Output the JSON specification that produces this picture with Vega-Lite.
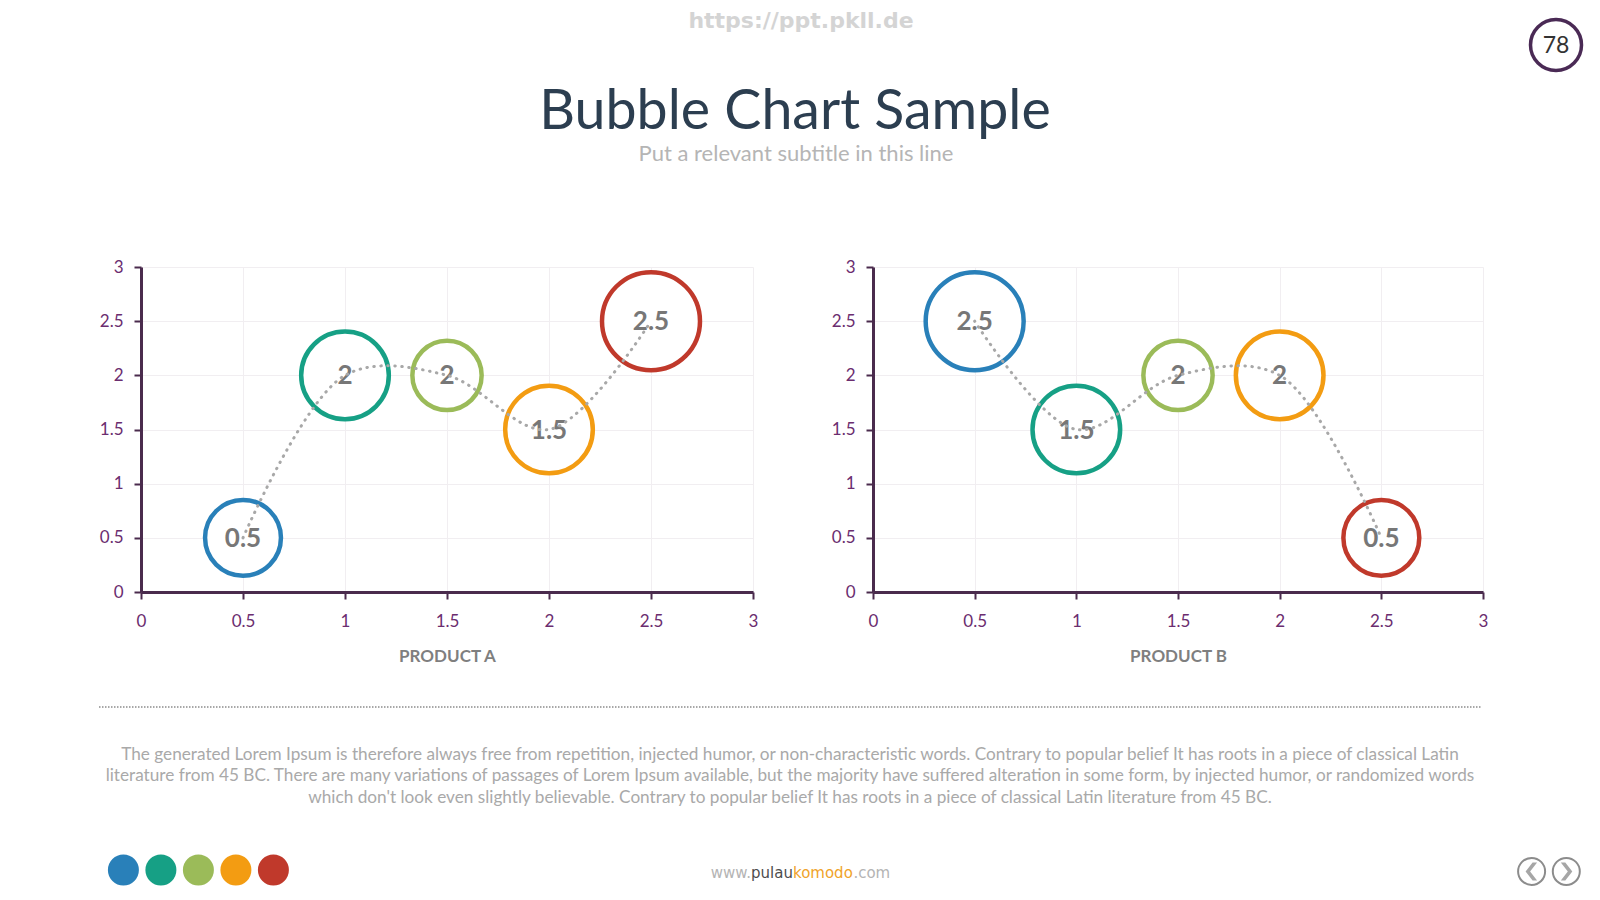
{
  "$schema": "https://vega.github.io/schema/vega-lite/v6.json",
  "background": "white",
  "padding": 0,
  "autosize": {"type": "pad"},
  "bounds": "flush",
  "spacing": 120,
  "datasets": {
    "productA": [
      {"k": "1", "x": 0.5, "y": 0.5, "w": 1.2},
      {"k": "2", "x": 1, "y": 2, "w": 1.6},
      {"k": "3", "x": 1.5, "y": 2, "w": 1},
      {"k": "4", "x": 2, "y": 1.5, "w": 1.6},
      {"k": "5", "x": 2.5, "y": 2.5, "w": 2}
    ],
    "productB": [
      {"k": "1", "x": 0.5, "y": 2.5, "w": 2},
      {"k": "2", "x": 1, "y": 1.5, "w": 1.6},
      {"k": "3", "x": 1.5, "y": 2, "w": 1},
      {"k": "4", "x": 2, "y": 2, "w": 1.6},
      {"k": "5", "x": 2.5, "y": 0.5, "w": 1.2}
    ],
    "swatches": [{"k": "1"}, {"k": "2"}, {"k": "3"}, {"k": "4"}, {"k": "5"}]
  },
  "hconcat": [
    {
      "width": 612,
      "height": 325,
      "data": {"name": "productA"},
      "layer": [
        {
          "mark": {"type": "point", "filled": false, "fill": "white", "strokeWidth": 4.5, "opacity": 1},
          "encoding": {
            "x": {"field": "x", "type": "quantitative", "scale": {"domain": [0, 3], "nice": false}, "axis": {"values": [0, 0.5, 1, 1.5, 2, 2.5, 3], "format": "~g", "title": "PRODUCT A"}},
            "y": {"field": "y", "type": "quantitative", "scale": {"domain": [0, 3], "nice": false}, "axis": {"values": [0, 0.5, 1, 1.5, 2, 2.5, 3], "format": "~g", "title": null}},
            "size": {"field": "w", "type": "quantitative", "scale": {"domain": [0, 2], "range": [0, 9600]}, "legend": null},
            "color": {"field": "k", "type": "nominal", "scale": {"domain": ["1", "2", "3", "4", "5"], "range": ["#2980b9", "#16a085", "#9bbb59", "#f39c12", "#c0392b"]}, "legend": null}
          }
        },
        {
          "mark": {"type": "text", "fontWeight": "bold", "fontSize": 26, "color": "#777777", "baseline": "middle", "dy": 1},
          "encoding": {
            "x": {"field": "x", "type": "quantitative"},
            "y": {"field": "y", "type": "quantitative"},
            "text": {"field": "y", "type": "quantitative", "format": "~g"}
          }
        },
        {
          "mark": {"type": "line", "interpolate": "catmull-rom", "color": "#a8a8a8", "strokeWidth": 3, "strokeDash": [0.5, 6.5], "strokeCap": "round"},
          "encoding": {
            "x": {"field": "x", "type": "quantitative"},
            "y": {"field": "y", "type": "quantitative"}
          }
        },
        {
          "data": {"values": [{"page": "slide"}]},
          "mark": {"type": "rect", "fill": "transparent", "strokeWidth": 0},
          "encoding": {
            "x": {"datum": -0.686275, "type": "quantitative"},
            "x2": {"datum": 7.156863},
            "y": {"datum": 5.455385, "type": "quantitative"},
            "y2": {"datum": -2.852308}
          }
        },
        {
          "data": {"name": "swatches"},
          "mark": {"type": "circle", "size": 961, "opacity": 1},
          "encoding": {
            "x": {"datum": -0.086275, "type": "quantitative"},
            "xOffset": {"field": "k", "type": "nominal", "scale": {"type": "point", "range": [0, 150], "padding": 0}},
            "y": {"datum": -2.566154, "type": "quantitative"},
            "color": {"field": "k", "type": "nominal", "legend": null}
          }
        },
        {
          "data": {"values": [{"text": "https://ppt.pkll.de"}]},
          "mark": {"type": "text", "font": "DejaVu Sans", "fontWeight": "bold", "fontSize": 22, "color": "#d4d4d4", "baseline": "middle", "align": "center"},
          "encoding": {
            "x": {"datum": 3.235294, "type": "quantitative"},
            "y": {"datum": 5.267077, "type": "quantitative"},
            "text": {"field": "text"}
          }
        },
        {
          "data": {"values": [{"text": "Bubble Chart Sample"}]},
          "mark": {"type": "text", "fontSize": 55.5, "color": "#2c3e50", "baseline": "alphabetic", "align": "center"},
          "encoding": {
            "x": {"datum": 3.205882, "type": "quantitative"},
            "y": {"datum": 4.273846, "type": "quantitative"},
            "text": {"field": "text"}
          }
        },
        {
          "data": {"values": [{"text": "Put a relevant subtitle in this line"}]},
          "mark": {"type": "text", "fontSize": 22, "color": "#b5b5b5", "baseline": "alphabetic", "align": "center"},
          "encoding": {
            "x": {"datum": 3.210784, "type": "quantitative"},
            "y": {"datum": 3.978462, "type": "quantitative"},
            "text": {"field": "text"}
          }
        },
        {
          "data": {"values": [{"text": "78"}]},
          "mark": {"type": "point", "shape": "circle", "size": 2601, "filled": false, "fill": "white", "stroke": "#4a2a55", "strokeWidth": 3.5, "opacity": 1},
          "encoding": {
            "x": {"datum": 6.936275, "type": "quantitative"},
            "y": {"datum": 5.049231, "type": "quantitative"}
          }
        },
        {
          "data": {"values": [{"text": "78"}]},
          "mark": {"type": "text", "fontSize": 23, "color": "#333333", "baseline": "middle", "align": "center", "dy": 1},
          "encoding": {
            "x": {"datum": 6.936275, "type": "quantitative"},
            "y": {"datum": 5.049231, "type": "quantitative"},
            "text": {"field": "text"}
          }
        },
        {
          "data": {"values": [{"divider": "footer"}]},
          "mark": {"type": "rule", "color": "#8c8c8c", "strokeWidth": 1.5, "strokeDash": [1.5, 1.5]},
          "encoding": {
            "x": {"datum": -0.205882, "type": "quantitative"},
            "x2": {"datum": 6.573529},
            "y": {"datum": -1.061538, "type": "quantitative"}
          }
        },
        {
          "data": {"values": [{"text": "The generated Lorem Ipsum is therefore always free from repetition, injected humor, or non-characteristic words. Contrary to popular belief It has roots in a piece of classical Latin\nliterature from 45 BC. There are many variations of passages of Lorem Ipsum available, but the majority have suffered alteration in some form, by injected humor, or randomized words\nwhich don't look even slightly believable. Contrary to popular belief It has roots in a piece of classical Latin literature from 45 BC."}]},
          "mark": {"type": "text", "fontSize": 17.2, "color": "#a9a9a9", "baseline": "middle", "align": "center", "lineBreak": "\n", "lineHeight": 21.4},
          "encoding": {
            "x": {"datum": 3.181373, "type": "quantitative"},
            "y": {"datum": -1.504615, "type": "quantitative"},
            "text": {"field": "text"}
          }
        },
        {
          "data": {"values": [{"text": "www."}]},
          "mark": {"type": "text", "font": "DejaVu Sans", "fontSize": 15, "color": "#b4b4b4", "baseline": "middle", "align": "right"},
          "encoding": {
            "x": {"datum": 2.990196, "type": "quantitative"},
            "y": {"datum": -2.597538, "type": "quantitative"},
            "text": {"field": "text"}
          }
        },
        {
          "data": {"values": [{"text": "pulau"}]},
          "mark": {"type": "text", "font": "DejaVu Sans", "fontSize": 15, "color": "#4d4d4d", "baseline": "middle", "align": "left"},
          "encoding": {
            "x": {"datum": 2.990196, "type": "quantitative"},
            "y": {"datum": -2.597538, "type": "quantitative"},
            "text": {"field": "text"}
          }
        },
        {
          "data": {"values": [{"text": "komodo"}]},
          "mark": {"type": "text", "font": "DejaVu Sans", "fontSize": 15, "color": "#f0a32a", "baseline": "middle", "align": "left"},
          "encoding": {
            "x": {"datum": 3.196078, "type": "quantitative"},
            "y": {"datum": -2.597538, "type": "quantitative"},
            "text": {"field": "text"}
          }
        },
        {
          "data": {"values": [{"text": ".com"}]},
          "mark": {"type": "text", "font": "DejaVu Sans", "fontSize": 15, "color": "#b4b4b4", "baseline": "middle", "align": "left"},
          "encoding": {
            "x": {"datum": 3.492157, "type": "quantitative"},
            "y": {"datum": -2.597538, "type": "quantitative"},
            "text": {"field": "text"}
          }
        },
        {
          "data": {"values": [{"button": "previous"}]},
          "mark": {"type": "point", "shape": "circle", "size": 729, "filled": false, "fill": "white", "stroke": "#8c8c8c", "strokeWidth": 2, "opacity": 1},
          "encoding": {
            "x": {"datum": 6.816667, "type": "quantitative"},
            "y": {"datum": -2.579077, "type": "quantitative"}
          }
        },
        {
          "data": {"values": [{"button": "next"}]},
          "mark": {"type": "point", "shape": "circle", "size": 729, "filled": false, "fill": "white", "stroke": "#8c8c8c", "strokeWidth": 2, "opacity": 1},
          "encoding": {
            "x": {"datum": 6.986765, "type": "quantitative"},
            "y": {"datum": -2.579077, "type": "quantitative"}
          }
        },
        {
          "data": {"values": [{"button": "previous"}]},
          "mark": {"type": "point", "shape": "M 0.1 -0.9 L -0.6 0 L 0.1 0.9 L 0.55 0.9 L -0.15 0 L 0.55 -0.9 Z", "size": 400, "filled": true, "color": "#a6a6a6", "opacity": 1},
          "encoding": {
            "x": {"datum": 6.816667, "type": "quantitative"},
            "y": {"datum": -2.579077, "type": "quantitative"}
          }
        },
        {
          "data": {"values": [{"button": "next"}]},
          "mark": {"type": "point", "shape": "M -0.1 -0.9 L 0.6 0 L -0.1 0.9 L -0.55 0.9 L 0.15 0 L -0.55 -0.9 Z", "size": 400, "filled": true, "color": "#a6a6a6", "opacity": 1},
          "encoding": {
            "x": {"datum": 6.986765, "type": "quantitative"},
            "y": {"datum": -2.579077, "type": "quantitative"}
          }
        }
      ]
    },
    {
      "width": 610,
      "height": 325,
      "data": {"name": "productB"},
      "layer": [
        {
          "mark": {"type": "point", "filled": false, "fill": "white", "strokeWidth": 4.5, "opacity": 1},
          "encoding": {
            "x": {"field": "x", "type": "quantitative", "scale": {"domain": [0, 3], "nice": false}, "axis": {"values": [0, 0.5, 1, 1.5, 2, 2.5, 3], "format": "~g", "title": "PRODUCT B"}},
            "y": {"field": "y", "type": "quantitative", "scale": {"domain": [0, 3], "nice": false}, "axis": {"values": [0, 0.5, 1, 1.5, 2, 2.5, 3], "format": "~g", "title": null}},
            "size": {"field": "w", "type": "quantitative", "scale": {"domain": [0, 2], "range": [0, 9600]}, "legend": null},
            "color": {"field": "k", "type": "nominal", "scale": {"domain": ["1", "2", "3", "4", "5"], "range": ["#2980b9", "#16a085", "#9bbb59", "#f39c12", "#c0392b"]}, "legend": null}
          }
        },
        {
          "mark": {"type": "text", "fontWeight": "bold", "fontSize": 26, "color": "#777777", "baseline": "middle", "dy": 1},
          "encoding": {
            "x": {"field": "x", "type": "quantitative"},
            "y": {"field": "y", "type": "quantitative"},
            "text": {"field": "y", "type": "quantitative", "format": "~g"}
          }
        },
        {
          "mark": {"type": "line", "interpolate": "catmull-rom", "color": "#a8a8a8", "strokeWidth": 3, "strokeDash": [0.5, 6.5], "strokeCap": "round"},
          "encoding": {
            "x": {"field": "x", "type": "quantitative"},
            "y": {"field": "y", "type": "quantitative"}
          }
        }
      ]
    }
  ],
  "config": {
    "font": "Lato",
    "view": {"stroke": null},
    "axis": {
      "domainColor": "#4a2b4d", "domainWidth": 3,
      "tickColor": "#4a2b4d", "tickWidth": 2, "tickSize": 7,
      "labelColor": "#6b2d6f", "labelFont": "Lato", "labelFontSize": 17,
      "labelFlush": false, "labelOverlap": false,
      "gridColor": "#f1eef1", "gridWidth": 1,
      "titleColor": "#7f7f7f", "titleFont": "Lato", "titleFontSize": 17, "titleFontWeight": "bold"
    },
    "axisX": {"labelPadding": 14, "titlePadding": 19},
    "axisY": {"labelPadding": 11}
  }
}
